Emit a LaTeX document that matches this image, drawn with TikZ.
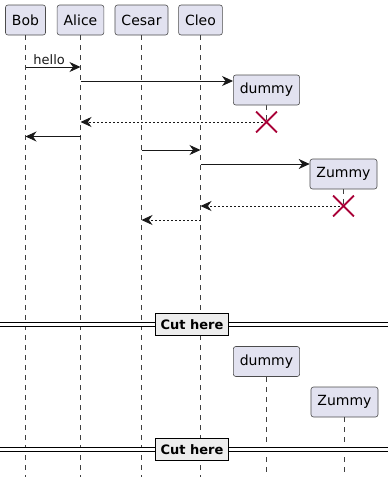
\documentclass[tikz,border=0pt]{standalone}
\usepackage{fontspec}
\setmainfont{DejaVu Sans}
\usetikzlibrary{arrows.meta, positioning, shapes.misc}

\definecolor{headfill}{HTML}{E2E2F0}
\definecolor{killred}{HTML}{A80036}

\tikzset{
  head/.style={draw=black!70, fill=headfill, rounded corners=2.5pt, line width=0.6pt,
               minimum height=30pt, inner xsep=6.5pt, font=\fontsize{14}{16}\selectfont},
  lifeline/.style={black!75, line width=0.5pt, dash pattern=on 5pt off 5pt},
  msg/.style={-{Stealth[length=11pt, width=10pt, inset=3.5pt]}, line width=0.9pt, black!90},
  reply/.style={msg, dash pattern=on 2pt off 2pt},
  kill/.style={cross out, draw=killred, line width=1.6pt, minimum size=19pt, inner sep=0pt},
  cutbox/.style={draw=black, line width=1.5pt, fill=black!7, minimum height=22pt,
                 inner xsep=5pt, font=\bfseries\fontsize{13}{15}\selectfont},
  cutline/.style={double, double distance=2.2pt, line width=1.1pt}
}

\begin{document}
\begin{tikzpicture}[x=1pt, y=-1pt]
  \useasboundingbox (0,0) rectangle (388,477);

  % Participants at the top
  \node[head] (bob)   at (25.5, 20)  {Bob};
  \node[head] (alice) at (80.5, 20)  {Alice};
  \node[head] (cesar) at (141.5, 20) {Cesar};
  \node[head] (cleo)  at (200.5, 20) {Cleo};

  % Rows of the messages
  \coordinate (r1) at (0, 67);
  \coordinate (r2) at (0, 81);
  \coordinate (r3) at (0, 122);
  \coordinate (r4) at (0, 136.5);
  \coordinate (r5) at (0, 150);
  \coordinate (r6) at (0, 164);
  \coordinate (r7) at (0, 206);
  \coordinate (r8) at (0, 220);
  \coordinate (bottom) at (0, 477);

  % Lifelines
  \draw[lifeline] (bob.south)   -- (bob |- bottom);
  \draw[lifeline] (alice.south) -- (alice |- bottom);
  \draw[lifeline] (cesar.south) -- (cesar |- bottom);
  \draw[lifeline] (cleo.south)  -- (cleo |- bottom);

  % Created participants and their ends
  \node[kill] (xdummy) at (266.5, 122) {};
  \node[kill] (xzummy) at (343.5, 206) {};
  \draw[lifeline] (266.5, 105) -- (xdummy.center);
  \draw[lifeline] (343.5, 189) -- (xzummy.center);
  \node[head] (dummyA) at (266.5, 90) {dummy};
  \node[head] (zummyA) at (343.5, 174)  {Zummy};

  % Messages
  \draw[msg] (bob |- r1) -- (alice |- r1)
    node[pos=0, anchor=south west, xshift=6pt, inner sep=1.5pt, font=\fontsize{13}{15}\selectfont] {hello};
  \draw[msg] (alice |- r2) -- (dummyA.west |- r2);
  \draw[reply] (xdummy.center) -- (alice |- r3);
  \node[kill] at (xdummy) {};
  \draw[msg] (alice |- r4) -- (bob |- r4);
  \draw[msg] (cesar |- r5) -- (cleo |- r5);
  \draw[msg] (cleo |- r6) -- (zummyA.west |- r6);
  \draw[reply] (xzummy.center) -- (cleo |- r7);
  \node[kill] at (xzummy) {};
  \draw[reply] (cleo |- r8) -- (cesar |- r8);

  % Second part after the cut
  \node[head] (dummyB) at (266.5, 361.5) {dummy};
  \node[head] (zummyB) at (344.5, 402)   {Zummy};
  \draw[lifeline] (dummyB.south) -- (dummyB |- bottom);
  \draw[lifeline] (zummyB.south) -- (zummyB |- bottom);

  % Cut separators
  \node[cutbox] (cut1) at (192, 324.5) {Cut here};
  \node[cutbox] (cut2) at (192, 449.5) {Cut here};
  \coordinate (cutLa) at (0, 324.5);
  \coordinate (cutRa) at (388, 324.5);
  \coordinate (cutLb) at (0, 449.5);
  \coordinate (cutRb) at (388, 449.5);
  \draw[cutline] (cutLa) -- (cut1.west);
  \draw[cutline] (cut1.east) -- (cutRa);
  \draw[cutline] (cutLb) -- (cut2.west);
  \draw[cutline] (cut2.east) -- (cutRb);
\end{tikzpicture}
\end{document}
